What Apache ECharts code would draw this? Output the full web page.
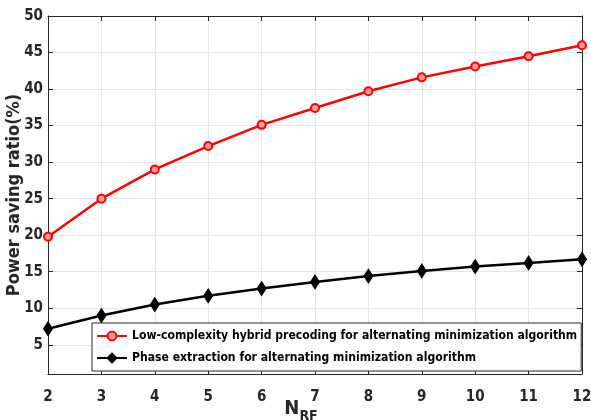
<!DOCTYPE html>
<html lang="en">
<head>
    <meta charset="UTF-8">
    <title>Power saving ratio</title>
    <script src="https://cdn.jsdelivr.net/npm/echarts@6/dist/echarts.min.js"></script>
</head>
<body style="margin:0;background:#fff;">
<div id="main" style="width:591px;height:420px;"></div>

<script type="text/javascript">
    var nRF = [2, 3, 4, 5, 6, 7, 8, 9, 10, 11, 12];
    var lowComplexity = [19.8, 25.0, 29.0, 32.2, 35.1, 37.4, 39.7, 41.6, 43.1, 44.5, 46.0];
    var phaseExtraction = [7.2, 9.0, 10.5, 11.7, 12.7, 13.6, 14.4, 15.1, 15.7, 16.2, 16.7];
    var yTicks = [5, 10, 15, 20, 25, 30, 35, 40, 45, 50];
    var seriesNames = [
        'Low-complexity hybrid precoding for alternating minimization algorithm',
        'Phase extraction for alternating minimization algorithm'
    ];

    var font = '"DejaVu Sans Condensed", "Liberation Sans", Arial, sans-serif';
    var myChart = echarts.init(document.getElementById('main'));

    function pairs(ys) {
        return nRF.map(function (x, i) { return [x, ys[i]]; });
    }

    var xBase = {
        type: 'value', min: 2, max: 12, interval: 1,
        axisLine: { show: true, onZero: false, lineStyle: { color: '#262626', width: 1 } },
        axisTick: { show: true, inside: true, length: 5, lineStyle: { color: '#262626' } }
    };
    var yBase = {
        type: 'value', min: 1, max: 50,
        axisLine: { show: true, onZero: false, lineStyle: { color: '#262626', width: 1 } },
        axisTick: { show: true, inside: true, length: 5, customValues: yTicks, lineStyle: { color: '#262626' } }
    };

    var option = {
        backgroundColor: '#fff',
        animation: false,
        grid: { left: 48, right: 9, top: 16, bottom: 46, outerBoundsMode: 'none' },
        legend: {
            orient: 'vertical',
            left: 92, top: 323,
            padding: [7, 4, 7, 4],
            itemGap: 10,
            itemWidth: 30, itemHeight: 11,
            backgroundColor: '#fff',
            borderColor: '#262626', borderWidth: 1,
            borderRadius: 0,
            textStyle: { fontFamily: font, fontWeight: 'bold', fontSize: 12.1, color: '#000' },
            data: seriesNames
        },
        xAxis: [
            Object.assign({}, xBase, {
                position: 'bottom',
                name: '{n|N}{s|RF}',
                nameLocation: 'middle',
                nameGap: 20,
                nameMoveOverlap: false,
                nameTextStyle: {
                    padding: [0, 28, 0, 0],
                    rich: {
                        n: { fontFamily: font, fontWeight: 'bold', fontSize: 20, color: '#262626' },
                        s: { fontFamily: font, fontWeight: 'bold', fontSize: 14, color: '#262626', padding: [15, 0, 0, 0] }
                    }
                },
                axisLabel: { fontFamily: font, fontWeight: 'bold', fontSize: 15, color: '#262626', margin: 16 },
                splitLine: { show: true, lineStyle: { color: '#e6e6e6', width: 1 } }
            }),
            Object.assign({}, xBase, {
                position: 'top',
                axisLabel: { show: false },
                splitLine: { show: false }
            })
        ],
        yAxis: [
            Object.assign({}, yBase, {
                position: 'left',
                name: 'Power saving ratio(%)',
                nameLocation: 'middle',
                nameGap: 25,
                nameMoveOverlap: false,
                nameTextStyle: { fontFamily: font, fontWeight: 'bold', fontSize: 18, color: '#262626' },
                axisLabel: {
                    fontFamily: font, fontWeight: 'bold', fontSize: 15, color: '#262626', margin: 5,
                    customValues: yTicks
                },
                splitLine: { show: true, lineStyle: { color: '#e6e6e6', width: 1 } }
            }),
            Object.assign({}, yBase, {
                position: 'right',
                axisLabel: { show: false, customValues: yTicks },
                splitLine: { show: false }
            })
        ],
        series: [
            {
                name: seriesNames[0],
                type: 'line',
                data: pairs(lowComplexity),
                symbol: 'circle',
                symbolSize: 8,
                showAllSymbol: true,
                lineStyle: { color: '#ff0000', width: 2.5 },
                itemStyle: { color: '#ff9a9a', borderColor: '#ff0000', borderWidth: 2 }
            },
            {
                name: seriesNames[1],
                type: 'line',
                data: pairs(phaseExtraction),
                symbol: 'diamond',
                symbolSize: [9, 14],
                showAllSymbol: true,
                lineStyle: { color: '#000000', width: 2.5 },
                itemStyle: { color: '#000000', borderColor: '#000000', borderWidth: 1 }
            }
        ]
    };
    myChart.setOption(option);
</script>
</body>
</html>
